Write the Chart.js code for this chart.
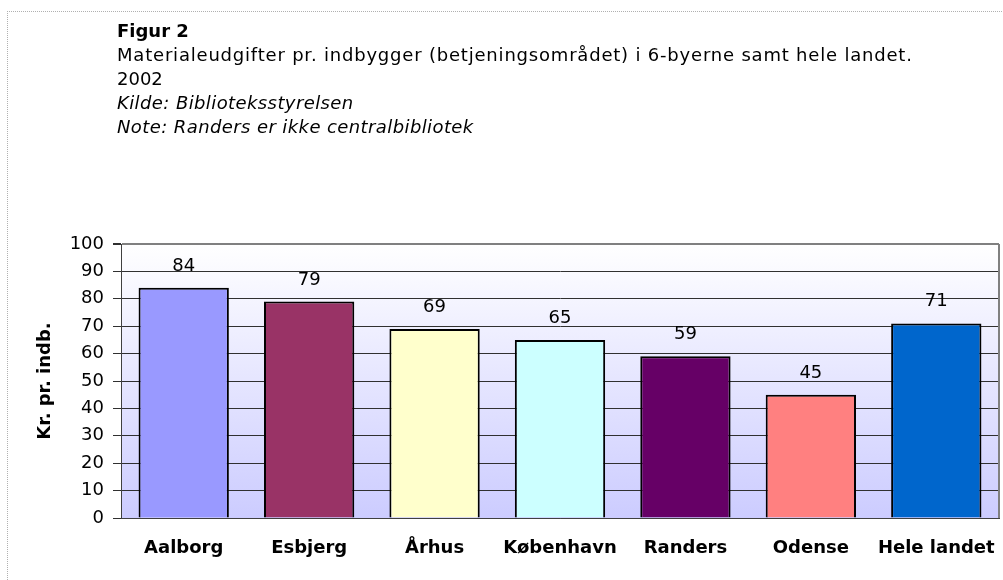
<!DOCTYPE html>
<html>
<head>
  <meta charset="UTF-8">
  <title>Figur 2</title>
  <script src="https://cdn.jsdelivr.net/npm/chart.js"></script>
  <style>
    body { margin: 0; background: #fff; font-family: "DejaVu Sans", Arial, sans-serif; }
    #frame { position: absolute; left: 7px; top: 11px; width: 1100px; height: 700px;
             border-top: 1px dotted #b0b0b0; border-left: 1px dotted #b0b0b0; }
    #head { position: absolute; left: 117px; top: 19px; font-size: 18px; line-height: 24px; color: #000; white-space: nowrap; }
    #head b { font-weight: bold; }
    #head i { font-style: italic; letter-spacing: 0.4px; }
    #head .wide { letter-spacing: 0.8px; }
    #wrap { position: absolute; left: 0; top: 0; width: 1003px; height: 580px; }
  </style>
</head>
<body>
  <div id="frame"></div>
  <div id="wrap"><canvas id="chart" width="1003" height="580"></canvas></div>
  <div id="head">
    <b>Figur 2</b><br>
    <span class="wide">Materialeudgifter pr. indbygger (betjeningsområdet) i 6-byerne samt hele landet.</span><br>
    2002<br>
    <i>Kilde: Biblioteksstyrelsen</i><br>
    <i>Note: Randers er ikke centralbibliotek</i>
  </div>
  <script>
    const cities = ['Aalborg', 'Esbjerg', 'Århus', 'København', 'Randers', 'Odense', 'Hele landet'];
    const spend = [84, 79, 69, 65, 59, 45, 71];
    const barColors = ['#9999ff', '#993366', '#ffffcc', '#ccffff', '#660066', '#ff8080', '#0066cc'];
    const yTitle = 'Kr. pr. indb.';

    const FONT = '"DejaVu Sans", Arial, sans-serif';

    // gradient plot area + grey frame on the right + value labels
    const plotBack = {
      id: 'plotBack',
      beforeDraw(chart) {
        const { ctx, chartArea: a } = chart;
        const g = ctx.createLinearGradient(0, a.top, 0, a.bottom);
        g.addColorStop(0, '#ffffff');
        g.addColorStop(1, '#ccccff');
        ctx.save();
        ctx.fillStyle = g;
        ctx.fillRect(a.left, a.top, a.right - a.left, a.bottom - a.top);
        ctx.restore();
      },
      afterDatasetsDraw(chart) {
        const { ctx, chartArea: a } = chart;
        ctx.save();
        ctx.strokeStyle = '#808080';
        ctx.lineWidth = 2;
        ctx.beginPath();
        ctx.moveTo(a.right, a.top);
        ctx.lineTo(a.right, a.bottom);
        ctx.stroke();
        ctx.fillStyle = '#000';
        ctx.font = '18px ' + FONT;
        ctx.textAlign = 'center';
        ctx.textBaseline = 'alphabetic';
        chart.getDatasetMeta(0).data.forEach((bar, i) => {
          ctx.fillText(String(spend[i]), bar.x, bar.y - 17);
        });
        ctx.restore();
      }
    };

    new Chart(document.getElementById('chart'), {
      type: 'bar',
      data: {
        labels: cities,
        datasets: [{
          data: spend,
          backgroundColor: barColors,
          borderColor: '#000',
          borderWidth: 2,
          categoryPercentage: 1,
          barPercentage: 0.72
        }]
      },
      options: {
        responsive: false,
        animation: false,
        layout: { autoPadding: false, padding: { left: 31, top: 244, right: 4, bottom: 0 } },
        plugins: { legend: { display: false }, tooltip: { enabled: false } },
        scales: {
          x: {
            grid: { display: false, drawTicks: false },
            border: { color: '#404040', width: 1 },
            ticks: { color: '#000', font: { family: FONT, size: 18, weight: 'bold' }, padding: 20, maxRotation: 0 },
            afterFit(s) { s.height = 62; s.paddingLeft = 0; s.paddingRight = 0; }
          },
          y: {
            min: 0, max: 100,
            ticks: { stepSize: 10, color: '#000', font: { family: FONT, size: 18 }, padding: 9 },
            grid: {
              color: c => c.tick && c.tick.value === 100 ? '#808080' : '#303030',
              lineWidth: c => c.tick && c.tick.value === 100 ? 2 : 1,
              tickLength: 8,
              tickColor: '#303030'
            },
            border: { color: '#404040', width: 1 },
            title: { display: true, text: yTitle, color: '#000', font: { family: FONT, size: 18, weight: 'bold' } },
            afterFit(s) { s.width = 90; s.paddingTop = 0; s.paddingBottom = 0; }
          }
        }
      },
      plugins: [plotBack]
    });
  </script>
</body>
</html>
